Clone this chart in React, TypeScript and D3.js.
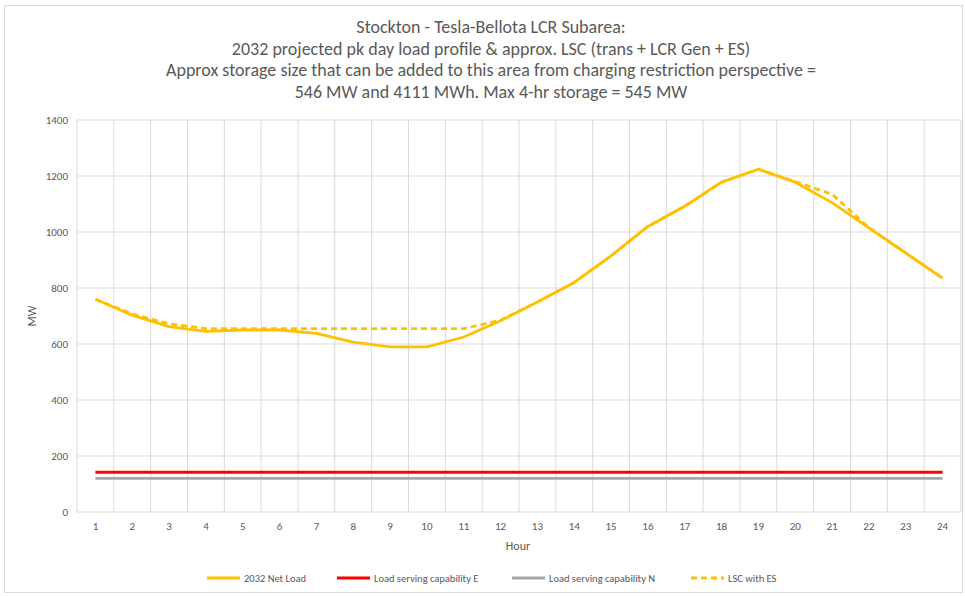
import React from "react";
import * as d3 from "d3";

// hours 1..24
const hours = d3.range(1, 25).map(String);

// MW values
const netLoad = [760, 703, 662, 645, 650, 650, 638, 607, 590, 590, 625, 683, 750, 820, 915, 1020, 1092, 1178, 1224, 1178, 1105, 1015, 925, 835];
const lscWithEs = [760, 707, 672, 655, 655, 655, 655, 655, 655, 655, 655, 685, 750, 820, 915, 1020, 1092, 1178, 1224, 1180, 1135, 1015, 925, 835];
const capabilityE = hours.map(() => 142);
const capabilityN = hours.map(() => 120);

const yTicks = [0, 200, 400, 600, 800, 1000, 1200, 1400];

const titleLines = [
  "Stockton - Tesla-Bellota LCR Subarea:",
  "2032 projected pk day load profile & approx. LSC (trans + LCR Gen + ES)",
  "Approx storage size that can be added to this area from charging restriction perspective =",
  "546 MW and 4111 MWh. Max 4-hr storage = 545 MW",
];

const series = [
  { name: "2032 Net Load", values: netLoad, color: "#FFC000", dash: "" },
  { name: "Load serving capability E", values: capabilityE, color: "#FF0000", dash: "" },
  { name: "Load serving capability N", values: capabilityN, color: "#A5A5A5", dash: "" },
  { name: "LSC with ES", values: lscWithEs, color: "#FFC000", dash: "6,4" },
];

const W = 965;
const H = 596;
const font = "Carlito, 'Liberation Sans Narrow', 'Open Sans', sans-serif";
const textColor = "#595959";

export default function App() {
  const left = 77;
  const right = 961;
  const top = 120;
  const bottom = 512;

  const x = d3.scaleBand<string>().domain(hours).range([left, right]);
  const y = d3.scaleLinear().domain([0, 1400]).range([bottom, top]);

  const line = d3
    .line<number>()
    .x((d, i) => (x(hours[i]) as number) + x.bandwidth() / 2)
    .y((d) => y(d));

  const legendX = [207, 337, 512, 691];

  return (
    <div style={{ position: "fixed", left: 0, top: 0 }}>
      <svg width={W} height={H} style={{ display: "block", background: "#fff" }}>
        <rect x={4.5} y={5.5} width={958} height={587} fill="#fff" stroke="#d9d9d9" />

        {titleLines.map((t, i) => (
          <text key={i} x={491} y={33 + i * 21.7} textAnchor="middle" fontSize={18} fill={textColor} fontFamily={font}>
            {t}
          </text>
        ))}

        {/* horizontal grid */}
        {yTicks.map((t) => (
          <g key={t}>
            <line x1={left} x2={right} y1={y(t)} y2={y(t)} stroke="#d9d9d9" strokeWidth={1} />
            <text x={68} y={y(t) + 4} textAnchor="end" fontSize={11} fill={textColor} fontFamily={font}>
              {t}
            </text>
          </g>
        ))}

        {/* vertical grid at category boundaries */}
        {hours.concat(["end"]).map((h, i) => {
          const xx = i < hours.length ? (x(h) as number) : right;
          return <line key={h} x1={xx} x2={xx} y1={top} y2={bottom} stroke="#d9d9d9" strokeWidth={1} />;
        })}

        {hours.map((h) => (
          <text key={h} x={(x(h) as number) + x.bandwidth() / 2} y={530} textAnchor="middle" fontSize={11} fill={textColor} fontFamily={font}>
            {h}
          </text>
        ))}

        <text x={518} y={550} textAnchor="middle" fontSize={12} fill={textColor} fontFamily={font}>
          Hour
        </text>
        <text transform="translate(36,316) rotate(-90)" textAnchor="middle" fontSize={12} fill={textColor} fontFamily={font}>
          MW
        </text>

        {/* series (dashed drawn last, on top) */}
        {[series[2], series[1], series[0], series[3]].map((s) => (
          <path
            key={s.name}
            d={line(s.values) || ""}
            fill="none"
            stroke={s.color}
            strokeWidth={2.8}
            strokeDasharray={s.dash || undefined}
            strokeLinejoin="round"
          />
        ))}

        {/* legend */}
        {series.map((s, i) => (
          <g key={s.name} transform={`translate(${legendX[i]},578)`}>
            <line x1={0} x2={33} y1={0} y2={0} stroke={s.color} strokeWidth={2.8} strokeDasharray={s.dash || undefined} />
            <text x={37} y={4} fontSize={10.5} fill={textColor} fontFamily={font}>
              {s.name}
            </text>
          </g>
        ))}
      </svg>
    </div>
  );
}
